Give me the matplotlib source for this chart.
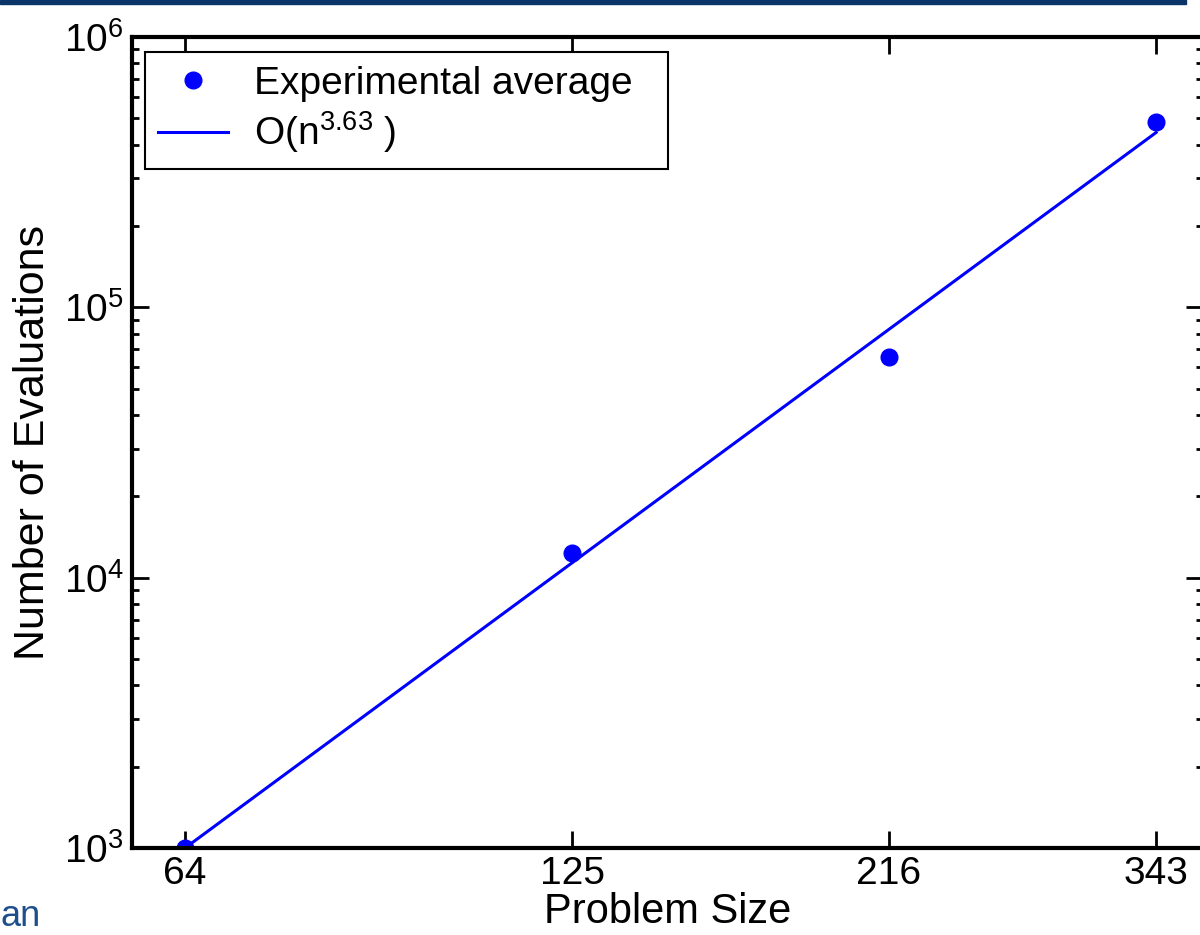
import numpy as np
import matplotlib
matplotlib.use('Agg')
import matplotlib.pyplot as plt
from matplotlib.ticker import FixedLocator, NullLocator, LogLocator

plt.rcParams['font.family'] = ['Liberation Sans', 'DejaVu Sans']
plt.rcParams['mathtext.fontset'] = 'custom'
plt.rcParams['mathtext.rm'] = 'Liberation Sans'
plt.rcParams['mathtext.it'] = 'Liberation Sans'

# data
problem_size = [64, 125, 216, 343]
evaluations = [1000, 12350, 65500, 486000]
exponent = 3.63
x_ticks = [64, 125, 216, 343]
x_tick_labels = ['64', '125', '216', '343']

fig = plt.figure(figsize=(12, 9.35), dpi=100)
ax = fig.add_axes([0.11, 0.093, 0.8925, 0.8674])

# fitted power law through the first point
n = np.array(problem_size, dtype=float)
fit = evaluations[0] * (n / n[0]) ** exponent

ax.plot(problem_size, evaluations, 'o', color='#0000ff', markersize=12,
        label='Experimental average')
ax.plot(n, fit, '-', color='#0000ff', linewidth=2.2,
        label=r'O(n$^{3.63}$ )')

ax.set_xscale('log')
ax.set_yscale('log')
ax.set_xlim(58.4, 372)
ax.set_ylim(1e3, 1e6)

ax.xaxis.set_major_locator(FixedLocator(x_ticks))
ax.set_xticklabels(x_tick_labels)
ax.xaxis.set_minor_locator(NullLocator())
ax.yaxis.set_major_locator(LogLocator(base=10))
ax.yaxis.set_minor_locator(LogLocator(base=10, subs=np.arange(2, 10)))

ax.tick_params(which='both', direction='in', top=True, right=True,
               labelsize=28, pad=6)
ax.tick_params(which='major', length=12, width=2)
ax.tick_params(which='minor', length=5, width=2)
for s in ax.spines.values():
    s.set_linewidth(3)

ax.set_xlabel('Problem Size', fontsize=30, labelpad=0)
ax.set_ylabel('Number of Evaluations', fontsize=31, labelpad=8)

leg = ax.legend(loc='upper left', bbox_to_anchor=(0.012, 0.9815, 0.488, 0.0),
                mode='expand', borderaxespad=0, fontsize=28, fancybox=False,
                edgecolor='black', framealpha=1, handlelength=1.8,
                handletextpad=0.65, labelspacing=0.2, borderpad=0.35)
leg.get_frame().set_linewidth(1.5)

# slide decorations around the chart
fig.patches.append(plt.Rectangle((0, 1 - 4 / 935), 1186 / 1200, 4 / 935,
                                 transform=fig.transFigure, color='#0b3468'))
fig.text(0.0, 0.001, 'an', fontsize=26, color='#1f4e8c', ha='left', va='bottom')

fig.savefig('out.png', dpi=100)
